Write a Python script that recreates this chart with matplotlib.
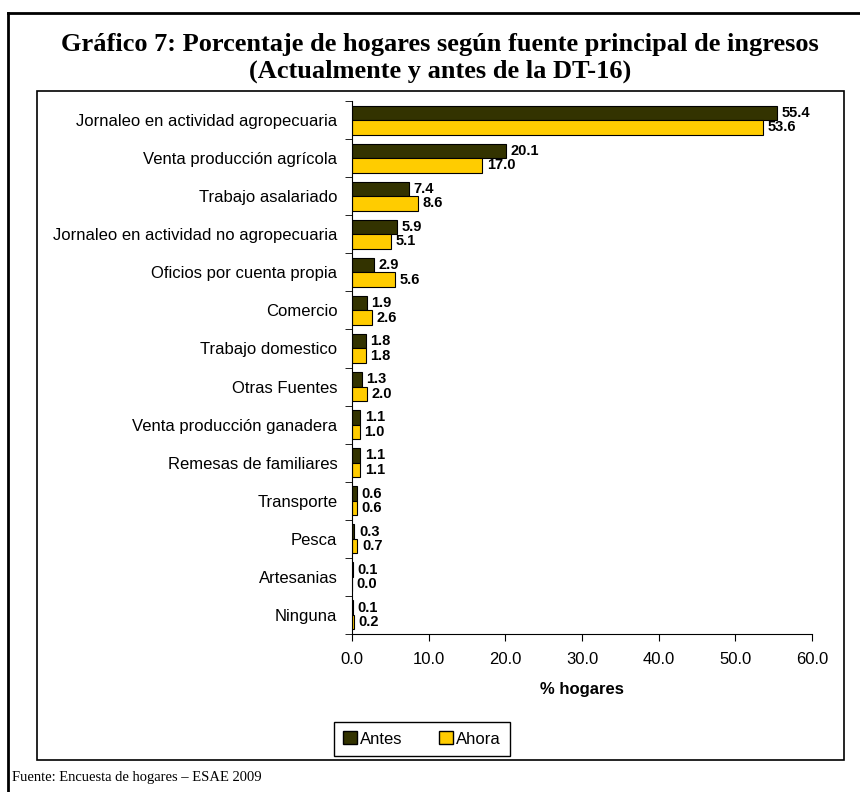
import numpy as np
import matplotlib
matplotlib.use("Agg")
import matplotlib.pyplot as plt
from matplotlib.patches import Rectangle, Patch
from matplotlib.lines import Line2D

# data
categories = [
    "Jornaleo en actividad agropecuaria",
    "Venta producción agrícola",
    "Trabajo asalariado",
    "Jornaleo en actividad no agropecuaria",
    "Oficios por cuenta propia",
    "Comercio",
    "Trabajo domestico",
    "Otras Fuentes",
    "Venta producción ganadera",
    "Remesas de familiares",
    "Transporte",
    "Pesca",
    "Artesanias",
    "Ninguna",
]
antes = [55.4, 20.1, 7.4, 5.9, 2.9, 1.9, 1.8, 1.3, 1.1, 1.1, 0.6, 0.3, 0.1, 0.1]
ahora = [53.6, 17.0, 8.6, 5.1, 5.6, 2.6, 1.8, 2.0, 1.0, 1.1, 0.6, 0.7, 0.0, 0.2]
xticks = [0, 10, 20, 30, 40, 50, 60]

col_antes = "#333300"
col_ahora = "#FFCC00"

W, H = 860, 792
fig = plt.figure(figsize=(W / 100, H / 100), dpi=100)

# frames
fig.add_artist(Line2D([8 / W, 8 / W], [0, 1 - 13 / H], color="black", lw=2))
fig.add_artist(Line2D([8 / W, 1], [1 - 13 / H, 1 - 13 / H], color="black", lw=2))
fig.add_artist(Rectangle((37 / W, 1 - 760 / H), (844 - 37) / W, (760 - 91) / H,
                         fill=False, edgecolor="black", lw=1.2))

fig.text(440 / W, 1 - 45 / H, "Gráfico 7: Porcentaje de hogares según fuente principal de ingresos",
         ha="center", va="center", fontsize=19, fontweight="bold", family="Liberation Serif")
fig.text(440 / W, 1 - 71 / H, "(Actualmente y antes de la DT-16)",
         ha="center", va="center", fontsize=19, fontweight="bold", family="Liberation Serif")
fig.text(12 / W, 1 - 777 / H, "Fuente: Encuesta de hogares – ESAE 2009",
         ha="left", va="center", fontsize=10.5, family="Liberation Serif")

ax = fig.add_axes([352 / W, 1 - 634 / H, (812 - 352) / W, (634 - 101) / H])
n = len(categories)
y = np.arange(n)
h = 0.38
ax.barh(y - h / 2, antes, height=h, color=col_antes, edgecolor="black", lw=0.8)
ax.barh(y + h / 2, ahora, height=h, color=col_ahora, edgecolor="black", lw=0.8)

for i in range(n):
    ax.text(antes[i] + 0.6, y[i] - h / 2, f"{antes[i]:.1f}", va="center", ha="left",
            fontsize=10.5, fontweight="bold", family="Liberation Sans")
    ax.text(ahora[i] + 0.6, y[i] + h / 2, f"{ahora[i]:.1f}", va="center", ha="left",
            fontsize=10.5, fontweight="bold", family="Liberation Sans")

ax.set_ylim(n - 0.5, -0.5)
ax.set_xlim(0, 60)
ax.set_yticks(y)
ax.set_yticklabels(categories, fontsize=12, family="Liberation Sans")
ax.set_yticks(np.arange(n + 1) - 0.5, minor=True)
ax.tick_params(axis="y", which="major", length=0, pad=10.5)
ax.tick_params(axis="y", which="minor", length=5, direction="out")
ax.set_xticks(xticks)
ax.set_xticklabels([f"{v:.1f}" for v in xticks], fontsize=12, family="Liberation Sans")
ax.tick_params(axis="x", length=5, direction="out", pad=8)
ax.set_xlabel("% hogares", fontsize=12, fontweight="bold", family="Liberation Sans", labelpad=11)
ax.spines["top"].set_visible(False)
ax.spines["right"].set_visible(False)

handles = [Patch(facecolor=col_antes, edgecolor="black", label="Antes"),
           Patch(facecolor=col_ahora, edgecolor="black", label="Ahora")]
fig.legend(handles=handles, loc="center", bbox_to_anchor=(422 / W, 1 - 739 / H), ncol=2,
           frameon=True, fancybox=False, edgecolor="black", framealpha=1,
           handlelength=0.8, handleheight=0.8, handletextpad=0.2, columnspacing=2.2,
           borderpad=0.55, borderaxespad=0, prop={"family": "Liberation Sans", "size": 12})

fig.savefig("out.png", dpi=100)
